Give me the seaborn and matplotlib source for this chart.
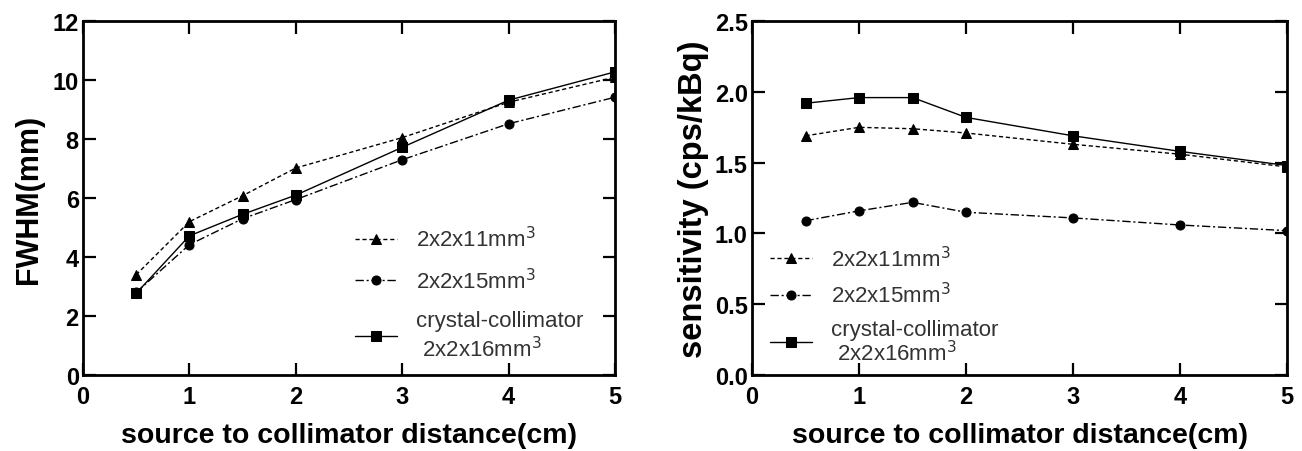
import numpy as np
import pandas as pd
import seaborn as sns
import matplotlib.pyplot as plt

sns.set_style("white")
plt.rcParams['font.family'] = ['Liberation Sans', 'DejaVu Sans']

distance = [0.5, 1, 1.5, 2, 3, 4, 5]

# FWHM (mm)
fwhm_11 = [3.4, 5.2, 6.08, 7.02, 8.05, 9.25, 10.1]
fwhm_15 = [2.8, 4.42, 5.3, 5.95, 7.3, 8.52, 9.42]
fwhm_16 = [2.77, 4.72, 5.45, 6.1, 7.72, 9.32, 10.28]

# sensitivity (cps/kBq)
sens_11 = [1.69, 1.75, 1.74, 1.71, 1.63, 1.56, 1.47]
sens_15 = [1.09, 1.16, 1.22, 1.15, 1.11, 1.06, 1.02]
sens_16 = [1.92, 1.96, 1.96, 1.82, 1.69, 1.58, 1.48]

labels = ["2x2x11mm$^3$", "2x2x15mm$^3$", "crystal-collimator\n 2x2x16mm$^3$"]
markers = ["^", "o", "s"]
styles = [(0, (3, 2)), (0, (6, 2, 1.5, 2)), "-"]
msizes = [6.5, 6.5, 7.5]

fig = plt.figure(figsize=(13.02, 4.52), dpi=100)
ax1 = fig.add_axes([0.0637, 0.168, 0.4086, 0.783])
ax2 = fig.add_axes([0.5776, 0.168, 0.411, 0.783])


def draw(ax, series):
    for vals, lab, m, ls, ms in zip(series, labels, markers, styles, msizes):
        df = pd.DataFrame({"x": distance, "y": vals})
        sns.lineplot(data=df, x="x", y="y", ax=ax, color="black", marker=m,
                     markersize=ms, markeredgecolor="black", linestyle=ls,
                     linewidth=1.0, label=lab)
    ax.set_xlim(0, 5)
    ax.set_xticks([0, 1, 2, 3, 4, 5])
    for s in ax.spines.values():
        s.set_linewidth(2.0)
        s.set_color("black")
    ax.tick_params(axis="both", which="major", direction="in", length=9,
                   width=1.6, labelsize=17, pad=3, colors="black",
                   bottom=True, top=True, left=True, right=True)
    ax.tick_params(axis="x", pad=7)
    ax.set_xlabel("source to collimator distance(cm)", fontsize=20.5,
                  fontweight="bold", labelpad=10, color="black")


def legend(ax, anchor, spacing, linesp):
    leg = ax.legend(loc="upper left", bbox_to_anchor=anchor, frameon=False,
                    fontsize=16, handlelength=1.9, labelspacing=spacing,
                    handletextpad=0.85, borderaxespad=0)
    for t in leg.get_texts():
        t.set_color("#333333")
        t.set_linespacing(linesp)


draw(ax1, [fwhm_11, fwhm_15, fwhm_16])
ax1.set_ylim(0, 12)
ax1.set_yticks([0, 2, 4, 6, 8, 10, 12])
for t in ax1.get_yticklabels() + ax1.get_xticklabels():
    t.set_fontweight("bold")
ax1.set_ylabel("FWHM(mm)", fontsize=22, fontweight="bold", labelpad=6, color="black")
legend(ax1, (0.494, 0.446), 0.75, 1.25)

draw(ax2, [sens_11, sens_15, sens_16])
ax2.set_ylim(0, 2.5)
ax2.set_yticks([0, 0.5, 1.0, 1.5, 2.0, 2.5])
ax2.set_yticklabels(["0.0", "0.5", "1.0", "1.5", "2.0", "2.5"])
for t in ax2.get_yticklabels() + ax2.get_xticklabels():
    t.set_fontweight("bold")
ax2.set_ylabel("sensitivity (cps/kBq)", fontsize=23.5, fontweight="bold", labelpad=4,
               color="black")
legend(ax2, (0.017, 0.39), 0.5, 1.0)

fig.savefig("out.png", dpi=100)
